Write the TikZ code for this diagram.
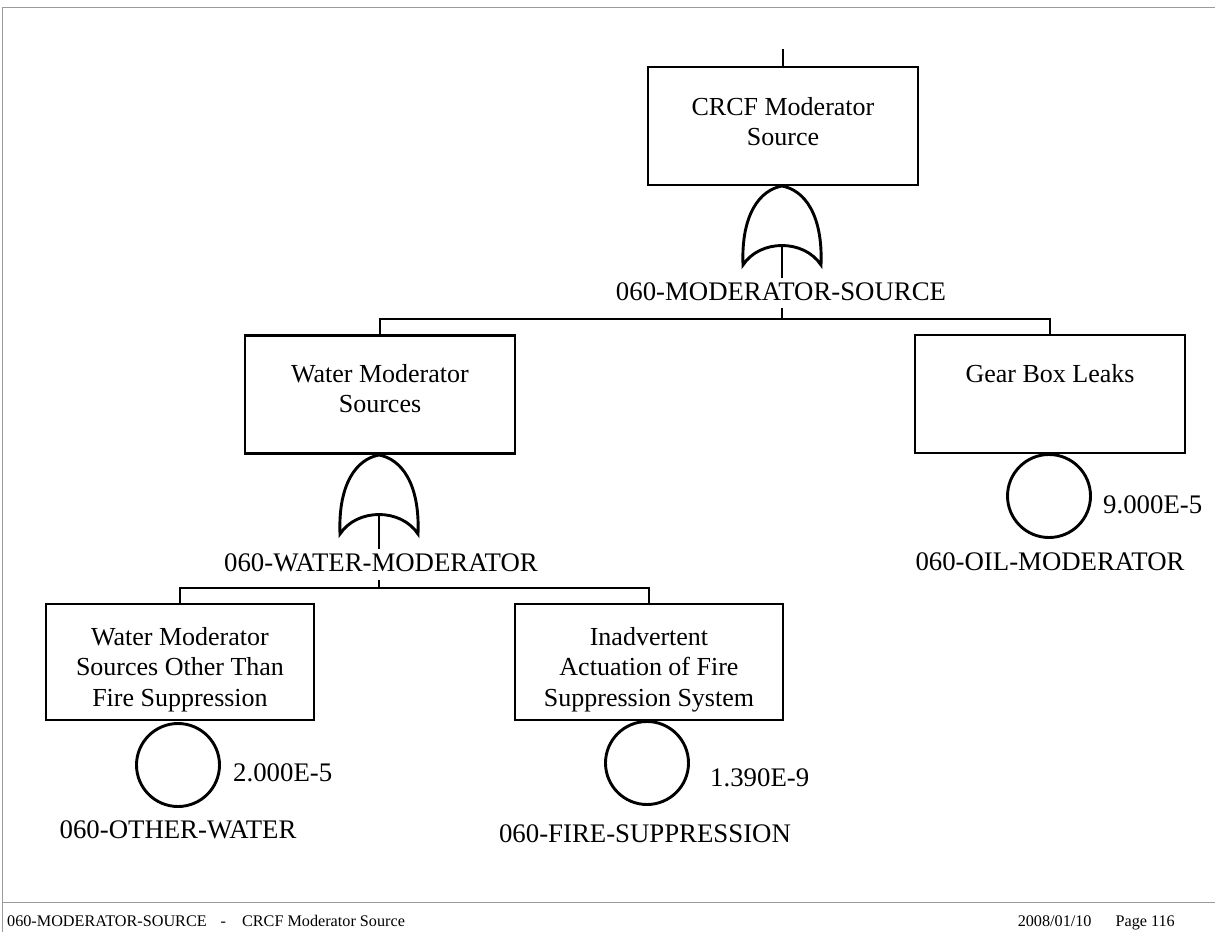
\documentclass[tikz,border=0pt]{standalone}
\usepackage{fontspec}
\setmainfont{Liberation Serif}
\newcommand\bigtxt{\fontsize{26}{30.5}\selectfont}
\newcommand\lbltxt{\fontsize{26.8}{30.5}\selectfont}
\newcommand\foottxt{\fontsize{16.2}{18}\selectfont}
\newcommand\stk[1]{\vtop{\halign{\hfil##\hfil\cr#1\crcr}}}
\definecolor{framegray}{RGB}{155,155,155}
\tikzset{
  box/.style={draw, line width=2.9pt, minimum width=270pt, minimum height=118pt, inner sep=0pt},
  btxt/.style={anchor=base, inner sep=0pt, font=\bigtxt},
  evt/.style={draw, circle, line width=2.9pt, minimum size=83pt, inner sep=0pt},
  lbl/.style={anchor=base, inner sep=0pt, font=\lbltxt},
  val/.style={anchor=base west, inner sep=0pt, font=\lbltxt},
  wire/.style={line width=2.9pt},
  frame/.style={line width=1.6pt, draw=framegray},
  orgate/.pic={
    \draw[line width=2.9pt] (-39,-79) .. controls (-41,-28) and (-22,-4) .. (0,0)
       .. controls (22,-4) and (41,-28) .. (39,-79)
       .. controls (22,-53) and (-22,-53) .. cycle;
    \coordinate (-in) at (0,-59);
  }
}
\begin{document}
\begin{tikzpicture}[x=1pt,y=1pt]
\useasboundingbox (0,0) rectangle (1215,-932);
% frame
\coordinate (ftl) at (2.5,-7.5);
\coordinate (ftr) at (1215,-7.5);
\coordinate (fbl) at (2.5,-932);
\coordinate (fml) at (2.5,-902.5);
\coordinate (fmr) at (1215,-902.5);
\draw[frame] (ftr) -- (ftl) -- (fbl);
\draw[frame] (fml) -- (fmr);
\node[anchor=base west, inner sep=0pt, font=\foottxt] (foot1) at (7,-926) {060-MODERATOR-SOURCE\hspace{14pt}-\hspace{16pt}CRCF Moderator Source};
\node[anchor=base east, inner sep=0pt, font=\foottxt] (foot2) at (1175,-926.5) {2008/01/10\hspace{24pt}Page 116};

% top event
\coordinate (stub) at (783,-49);
\node[box] (top) at (783,-126) {};
\node[btxt] (topT) at (783,-115) {\stk{CRCF Moderator\cr Source}};
\draw[wire] (stub) -- (top.north);
\pic (g1) at (782,-186) {orgate};
\node[lbl] (ms) at (781,-300) {060-MODERATOR-SOURCE};
\coordinate (bus1) at (782,-319);
\draw[wire, shorten >=4pt] (g1-in) -- (g1-in |- ms.north);
\draw[wire, shorten <=8pt] (bus1 |- ms.south) -- (bus1);

% level 1
\node[box] (wms) at (380,-394.5) {};
\node[btxt] (wmsT) at (380,-382) {\stk{Water Moderator\cr Sources}};
\node[box] (gbl) at (1050,-394) {};
\node[btxt] (gblT) at (1050,-382) {Gear Box Leaks};
\draw[wire] (wms.north) -- (wms.north |- bus1) -- (gbl.north |- bus1) -- (gbl.north);

% oil basic event
\node[evt] (e3) at (1049,-496) {};
\node[val] (v3) at (1103,-513) {9.000E-5};
\node[lbl] (n3) at (1050,-570) {060-OIL-MODERATOR};

% gate 2
\pic (g2) at (379,-455) {orgate};
\node[lbl] (wm) at (381,-571) {060-WATER-MODERATOR};
\coordinate (bus2) at (379,-588);
\draw[wire, shorten >=4pt] (g2-in) -- (g2-in |- wm.north);
\draw[wire, shorten <=8pt] (bus2 |- wm.south) -- (bus2);

% level 2
\node[box, minimum width=268pt, minimum height=116pt] (oth) at (180,-662) {};
\node[btxt] (othT) at (180,-645) {\stk{Water Moderator\cr Sources Other Than\cr Fire Suppression}};
\node[box, minimum width=268pt, minimum height=116pt] (ina) at (649,-662) {};
\node[btxt] (inaT) at (649,-645) {\stk{Inadvertent\cr Actuation of Fire\cr Suppression System}};
\draw[wire] (oth.north) -- (oth.north |- bus2) -- (ina.north |- bus2) -- (ina.north);

% basic events
\node[evt] (e1) at (178,-765) {};
\node[val] (v1) at (233,-781) {2.000E-5};
\node[lbl] (n1) at (178,-838) {060-OTHER-WATER};
\node[evt] (e2) at (647,-763) {};
\node[val] (v2) at (710,-786) {1.390E-9};
\node[lbl] (n2) at (645,-842) {060-FIRE-SUPPRESSION};
\end{tikzpicture}
\end{document}
